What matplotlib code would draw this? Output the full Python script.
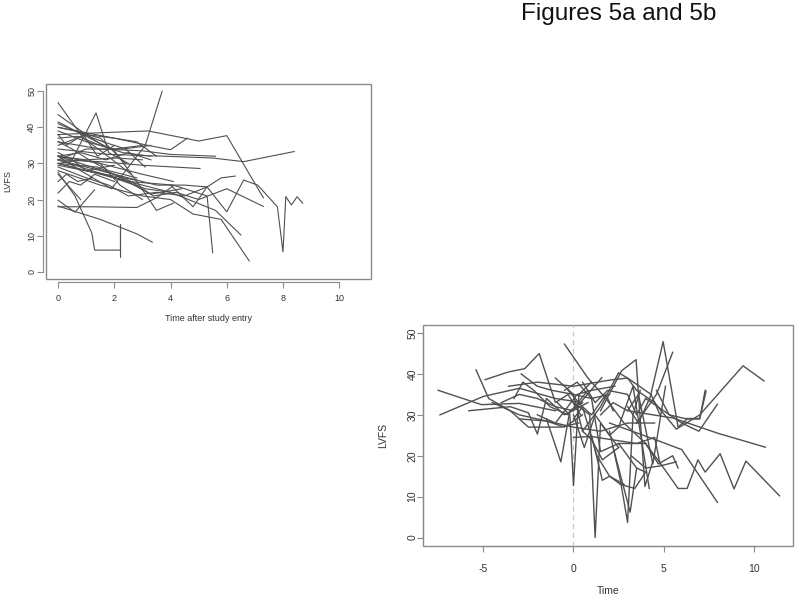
# Spaghetti plots of LVFS trajectories (Figures 5a and 5b)
import matplotlib
matplotlib.use("Agg")
import matplotlib.pyplot as plt
from matplotlib.patches import Rectangle

plt.rcParams["font.family"] = ["Liberation Sans", "DejaVu Sans"]
plt.rcParams["axes.unicode_minus"] = False

# ---- Figure 5a: time after study entry ----
top_times = [
    [0, 0.8, 1.9, 3.1, 3.7],
    [0.5, 1.35, 1.8, 2.5],
    [0, 0.9, 1.6, 2.6],
    [0, 1.5, 3.2, 4.5, 5.0, 6.0, 7.3],
    [0, 1.8, 3.8, 5.5, 6.6, 8.4],
    [4.0, 4.8, 5.3, 6.0, 6.6, 7.1, 7.8, 8.0, 8.1, 8.3, 8.5, 8.7],
    [0, 1.5, 3.0, 4.0, 4.8, 5.8, 6.8],
    [0, 1.2, 2.5, 4.1, 5.3, 5.5],
    [0, 2.0, 4.0, 4.8, 5.6, 6.5],
    [0, 2.0, 3.4, 4.2, 5.0, 6.0, 7.3],
    [0, 1.5, 3.5, 4.5, 5.3, 5.8, 6.3],
    [0, 1.5, 2.8, 3.35],
    [0, 0.6, 1.2, 1.3, 2.22, 2.22, 2.22],
    [0, 0.8],
    [0, 0.6, 1.3],
    [0, 1.2, 2.8, 3.5, 4.1],
    [0, 0.4, 0.8, 1.3, 2.0],
    [0, 1.5, 3.0, 4.0, 5.6],
    [0, 1.5, 3.0, 5.05],
    [0, 1.5, 3.0, 4.1],
    [0, 1.0, 2.0, 2.8],
    [0, 1.0, 2.0, 2.8, 3.5, 4.1],
    [0, 1.0, 1.6],
    [0, 2.0, 3.2, 4.0, 4.6],
    [0, 0.7, 1.5, 2.3, 3.3],
    [0, 0.8, 1.7, 2.5, 3.3],
    [0, 1.0, 2.0, 3.0],
    [0, 0.6, 1.5, 2.4],
    [0, 1.0, 2.0, 2.8, 3.5],
    [0, 0.8, 1.5, 2.2, 3.0],
    [0, 1.0, 1.8, 2.5, 3.5, 4.5, 5.3],
    [0, 0.5, 1.0, 2.0],
    [0, 1.0, 2.3, 3.3],
    [0, 0.3, 0.9, 1.4, 2.0],
    [0, 1.4, 2.6, 3.3, 4.4],
    [0, 0.3, 0.7, 1.2],
    [0, 1.0, 2.1, 3.0],
    [0, 0.5, 1.1, 1.8, 2.8],
    [0, 0.6, 1.6, 2.4, 3.1],
    [0, 1.6, 3.1, 4.0],
]
top_lvfs = [
    [32, 28, 23, 35, 50],
    [31, 44, 33, 30],
    [46.8, 37, 33, 27],
    [38, 38.5, 39, 37, 36.2, 37.7, 20.5],
    [34, 32.5, 32, 31.5, 30.5, 33.3],
    [24, 18, 23.5, 16.6, 25.4, 24, 18, 5.5, 20.8, 18.5, 20.8, 19],
    [28, 24, 21, 20, 16, 14.5, 3],
    [31, 28, 25, 24, 21, 5.3],
    [30, 26, 22, 19.5, 17, 10.2],
    [32, 27, 21, 22, 20, 23, 18.1],
    [31, 28, 24, 24, 23.5, 26, 26.5],
    [18.2, 14.5, 10.5, 8.2],
    [27.5, 21, 10.7, 6, 6, 13, 4],
    [27, 20],
    [19.8, 16.5, 22.7],
    [18, 18, 17.8, 20.5, 23.8],
    [21.8, 25, 24, 27, 25],
    [36, 34, 33.5, 32.5, 32],
    [31, 30.5, 29.5, 28.6],
    [32, 30, 27, 25],
    [30, 28, 26.5, 25.3],
    [41.5, 37.5, 33.5, 25, 17, 19],
    [43.5, 38, 35],
    [40, 37, 35, 33.8, 37],
    [37, 37.5, 35, 33, 32],
    [32, 33, 31, 33, 31],
    [39, 36, 34, 35],
    [41, 39, 37, 30],
    [35, 38, 37, 36, 32],
    [30, 31, 30, 24, 20],
    [29, 26, 24, 21, 22, 21, 23.5],
    [33, 31, 28, 29.5],
    [31, 34, 34, 35],
    [38, 35, 38, 32, 35],
    [30, 29, 25, 21.5, 23],
    [25, 27, 25, 26],
    [32, 31, 31.5, 31],
    [36, 34, 31, 28, 26],
    [40, 39, 36, 34, 29],
    [29.5, 27, 23, 22],
]

# ---- Figure 5b: time relative to event ----
bot_times = [
    [-7.5, -5.1, -3.0, -1.0],
    [-7.4, -5.0, -3.0, -1.0, 0.5],
    [-5.4, -4.7, -3.5, -2.5, -0.7, 0.3],
    [-4.9, -3.6, -2.7, -1.9, -1.0, -0.3, 0.4],
    [-5.8, -3.5, -2.5, -2.0, -1.5, -0.5, 0.8],
    [-0.5, 0.8, 1.8, 2.8, 4.0],
    [0, 0.9, 1.2, 1.5, 2.5],
    [-0.9, -0.2, 0.0, 0.3, 1.0],
    [-1.5, -0.7, -0.2, 0.5],
    [3.0, 3.6, 4.25, 4.97, 5.8, 6.3, 7.0, 7.3],
    [3.5, 4.6, 5.5],
    [1.5, 2.67, 3.47, 3.96, 4.5],
    [2.0, 2.6, 3.0, 3.3, 3.7],
    [2.2, 2.8, 3.14, 3.5, 4.0],
    [4.5, 5.7, 7.0, 8.0, 9.4, 10.56],
    [4.6, 5.3, 6.18, 7.0, 7.35],
    [4.0, 5.0, 6.0, 6.95, 7.98],
    [3.0, 5.55, 8.0, 10.63],
    [2.5, 4.0, 5.0, 5.8, 6.3, 6.9, 7.3, 8.13, 8.9, 9.56, 11.42],
    [2.0, 4.5, 6.0, 7.0, 7.98],
    [4.0, 4.7, 5.1, 5.5, 5.8],
    [3.2, 4.0, 4.8, 5.7],
    [-3.6, -2.0, 0.0, 2.0, 3.0, 4.3, 4.8],
    [-4.0, -3.0, -2.0, -1.0, 0.0, 1.57],
    [-3.3, -2.8, -2.2, -1.3, -0.3, 0.8],
    [-2.9, -2.0, -1.2, 0.0, 1.0, 2.0],
    [-3.0, -1.5, 0.0, 1.5, 3.0, 4.5],
    [-1.0, 0.0, 0.5, 1.0, 1.6, 2.5],
    [0.0, 1.0, 2.0, 3.5, 4.5, 4.8],
    [0.5, 1.5, 2.5, 3.0, 3.5, 4.5],
    [-2.0, -1.0, 0.2, 1.0, 2.3],
    [0.0, 0.5, 1.3, 2.0, 2.8],
    [1.0, 1.6, 2.0, 2.6, 3.4, 4.0],
    [-0.5, 0.2, 1.0, 1.5, 2.5, 3.5],
    [0.0, 0.6, 1.2, 2.0, 2.5, 3.3, 4.2],
    [1.5, 2.2, 3.0, 3.6, 4.4, 5.1],
    [-4.5, -3.0, -1.5, -0.5, 0.5],
    [0.5, 1.2, 1.9, 3.0, 3.5, 4.0],
    [-0.3, 0.5, 1.0, 1.8, 2.2],
]
bot_lvfs = [
    [36, 32.5, 32.8, 31],
    [30, 34.5, 36.5, 34, 33],
    [41, 34, 31, 27, 27, 28],
    [38.6, 40.5, 41.3, 45, 33, 35, 30],
    [31, 32, 30.5, 25.3, 34, 30, 33],
    [47.3, 39, 34, 28, 23],
    [33, 30, 0, 28, 22],
    [33, 30, 12.7, 35, 38],
    [29, 18.5, 31, 33],
    [32, 28, 34.3, 47.9, 27, 29, 29, 36],
    [28, 35, 45.3],
    [31, 40.8, 43.5, 12.5, 20],
    [26, 14, 3.7, 30, 36],
    [22, 12, 6.2, 17, 16],
    [33, 26.5, 30, 35, 42, 38.3],
    [36, 30, 29.1, 29.1, 35.8],
    [34, 31, 28, 26, 32.6],
    [31, 29.2, 25.5, 22.1],
    [23, 23, 17, 12, 12, 19, 16, 20.5, 11.9, 18.7, 10.2],
    [28, 24, 21.5, 15, 8.6],
    [23, 18, 19, 20, 17],
    [20, 17, 17.5, 18.5],
    [37, 38, 37, 38.5, 39, 35, 30],
    [33, 35, 34, 32, 31, 39.1],
    [34, 38, 36, 32, 30, 36],
    [40, 37, 36, 35, 34, 35],
    [29, 28.5, 27, 26, 28, 28],
    [39, 35, 26, 24, 19, 22],
    [24.5, 24.7, 24, 23, 24.5, 18],
    [26, 32, 40.3, 39, 36, 33],
    [30, 28, 35, 36, 37],
    [29, 32, 20, 15, 13],
    [25, 14, 15, 13, 12, 16],
    [36, 38, 34, 21, 23, 17],
    [30, 22, 30, 25, 27, 37, 12],
    [30, 33, 31, 35, 18, 37],
    [33, 30, 28.5, 27, 30],
    [38, 33, 36, 35, 30, 34],
    [36, 32, 30, 35, 31],
]

top_xticks = [0, 2, 4, 6, 8, 10]
bot_xticks = [-5, 0, 5, 10]
yticks = [0, 10, 20, 30, 40, 50]

LINE = "#505050"
FRAME = "#8a8a8a"


def r_style(ax, xticks, offset, fs, xpad, ypad):
    # R base-graphics look: a box plus axis lines that span only the ticks
    for side in ("top", "right"):
        ax.spines[side].set_visible(False)
    for side in ("left", "bottom"):
        ax.spines[side].set_position(("outward", offset))
        ax.spines[side].set_color(FRAME)
        ax.spines[side].set_linewidth(0.8)
    ax.spines["bottom"].set_bounds(xticks[0], xticks[-1])
    ax.spines["left"].set_bounds(yticks[0], yticks[-1])
    ax.add_patch(Rectangle((0, 0), 1, 1, transform=ax.transAxes, fill=False,
                           edgecolor=FRAME, linewidth=1.0, clip_on=False))
    ax.set_xticks(xticks)
    ax.set_yticks(yticks)
    ax.tick_params(axis="both", colors=FRAME, labelcolor="#333333",
                   labelsize=fs, length=4, width=0.8)
    ax.tick_params(axis="x", pad=xpad)
    ax.tick_params(axis="y", pad=ypad)
    for lab in ax.get_yticklabels():
        lab.set_rotation(90)
        lab.set_va("center")


fig = plt.figure(figsize=(8, 6), dpi=100)

# Figure 5a
ax1 = fig.add_axes([0.0575, 0.535, 0.40625, 0.325])
for t, y in zip(top_times, top_lvfs):
    ax1.plot(t, y, color=LINE, linewidth=0.8)
ax1.set_xlim(-0.43, 11.13)
ax1.set_ylim(-2, 52)
r_style(ax1, top_xticks, 2, 6.5, 5, 1)
ax1.set_xlabel("Time after study entry", fontsize=6.5, color="#333333", labelpad=8)
ax1.set_ylabel("LVFS", fontsize=6.5, color="#333333", labelpad=11)

# Figure 5b
ax2 = fig.add_axes([0.529, 0.0905, 0.4625, 0.368])
ax2.axvline(0, color="#c8c8c8", linestyle=(0, (4, 3)), linewidth=0.9)
for t, y in zip(bot_times, bot_lvfs):
    ax2.plot(t, y, color=LINE, linewidth=1.0)
ax2.set_xlim(-8.33, 12.18)
ax2.set_ylim(-2, 52)
r_style(ax2, bot_xticks, 0, 7.5, 9, 0)
ax2.set_xlabel("Time", fontsize=7.5, color="#333333", labelpad=9)
ax2.set_ylabel("LVFS", fontsize=7.5, color="#333333", labelpad=14)

fig.text(0.651, 0.995, "Figures 5a and 5b", fontsize=17.5, ha="left", va="top",
         color="#111111")

fig.savefig("out.png", dpi=100)
